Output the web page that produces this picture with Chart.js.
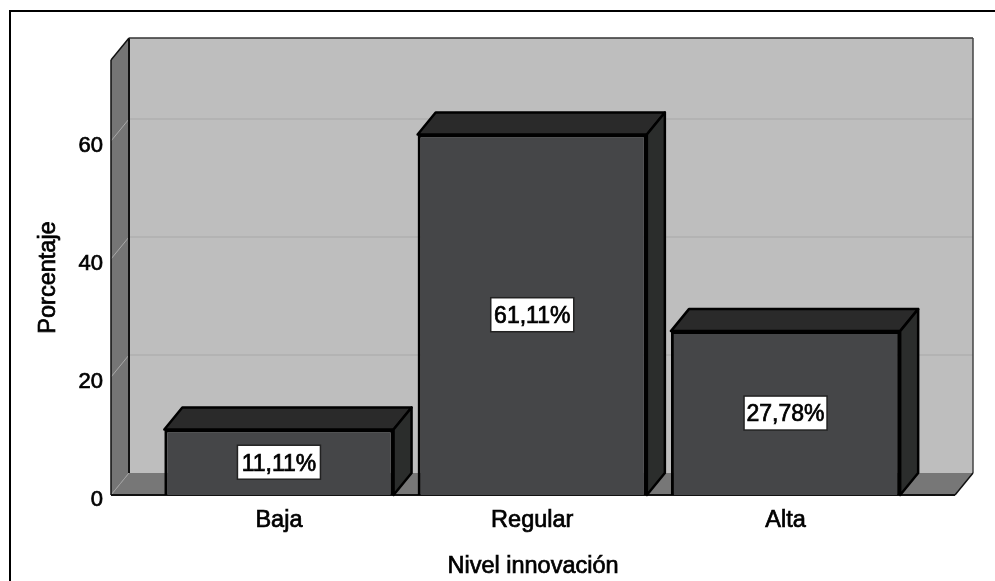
<!DOCTYPE html>
<html lang="es">
<head>
<meta charset="utf-8">
<title>Nivel innovación</title>
<script src="https://cdn.jsdelivr.net/npm/chart.js@4"></script>
<style>
  html, body { margin: 0; height: 100%; background: #fff; overflow: hidden; }
  #frame { position: absolute; left: 8.5px; top: 10px; right: 0; bottom: 0; border-left: 2.5px solid #000; border-top: 2.5px solid #000; }
  #chart { position: absolute; left: 0; top: 0; }
</style>
</head>
<body>
<div id="frame"></div>
<canvas id="chart" width="995" height="581"></canvas>
<script>
const categories = ['Baja', 'Regular', 'Alta'];
const percentages = [11.11, 61.11, 27.78];
const percentLabels = ['11,11%', '61,11%', '27,78%'];
const yTicks = [0, 20, 40, 60];

// how far the box recedes towards the back wall
const DEPTH_X = 18;
const DEPTH_Y = 22;
const FONT = '"Liberation Sans", Arial, sans-serif';

const polygon = (ctx, points, fill, stroke, lineWidth) => {
  ctx.beginPath();
  points.forEach(([x, y], i) => (i ? ctx.lineTo(x, y) : ctx.moveTo(x, y)));
  ctx.closePath();
  if (fill) {
    ctx.fillStyle = fill;
    ctx.fill();
  }
  if (stroke) {
    ctx.strokeStyle = stroke;
    ctx.lineWidth = lineWidth;
    ctx.stroke();
  }
};

const line = (ctx, x1, y1, x2, y2, stroke, lineWidth) => {
  ctx.beginPath();
  ctx.moveTo(x1, y1);
  ctx.lineTo(x2, y2);
  ctx.strokeStyle = stroke;
  ctx.lineWidth = lineWidth;
  ctx.stroke();
};

// back wall, left wall, floor and gridlines
const roomPlugin = {
  id: 'room',
  beforeDatasetsDraw(chart) {
    const { ctx, chartArea: { left, right, top, bottom }, scales: { y } } = chart;
    const dx = DEPTH_X;
    const dy = DEPTH_Y;
    ctx.save();
    ctx.lineJoin = 'round';
    polygon(ctx, [[left + dx, top - dy], [right + dx, top - dy], [right + dx, bottom - dy], [left + dx, bottom - dy]], '#bebebe');
    polygon(ctx, [[left, top], [left + dx, top - dy], [left + dx, bottom - dy], [left, bottom]], '#757575');
    polygon(ctx, [[left, bottom], [left + dx, bottom - dy], [right + dx, bottom - dy], [right, bottom]], '#777777');

    yTicks.filter((value) => value > 0).forEach((value) => {
      const py = y.getPixelForValue(value);
      line(ctx, left, py, left + dx, py - dy, '#a8a8a8', 1);
      line(ctx, left + dx, py - dy, right + dx, py - dy, '#a8a8a8', 1);
    });
    line(ctx, left, bottom, left + dx, bottom - dy, '#a0a0a0', 1);

    line(ctx, left + dx, top - dy, left + dx, bottom - dy, '#111', 2);
    line(ctx, left + dx, top - dy, right + dx, top - dy, '#333', 1.5);
    line(ctx, right + dx, top - dy, right + dx, bottom - dy, '#444', 1.5);
    line(ctx, left, top, left + dx, top - dy, '#111', 1.5);
    line(ctx, left, top, left, bottom, '#111', 1.5);
    line(ctx, right, bottom, right + dx, bottom - dy, '#111', 1.5);
    line(ctx, left, bottom, right, bottom, '#111', 2);

    // top and side faces of each bar, sitting behind the front face
    chart.getDatasetMeta(0).data.forEach((bar) => {
      const half = bar.width / 2;
      const l = bar.x - half;
      const r = bar.x + half;
      polygon(ctx, [[l, bar.y], [l + dx, bar.y - dy], [r + dx, bar.y - dy], [r, bar.y]], '#2a2a2a', '#000', 2.5);
      polygon(ctx, [[r, bar.y], [r + dx, bar.y - dy], [r + dx, bar.base - dy], [r, bar.base]], '#2b2d2c', '#000', 2.5);
    });
    ctx.restore();
  },
  afterDatasetsDraw(chart) {
    const { ctx } = chart;
    ctx.save();
    ctx.font = `23px ${FONT}`;
    ctx.textAlign = 'center';
    ctx.textBaseline = 'middle';
    chart.getDatasetMeta(0).data.forEach((bar, i) => {
      const cy = (bar.y + bar.base) / 2;
      ctx.fillStyle = '#fff';
      ctx.strokeStyle = '#222';
      ctx.lineWidth = 1.5;
      ctx.fillRect(bar.x - 41.5, cy - 17, 83, 34);
      ctx.strokeRect(bar.x - 41.5, cy - 17, 83, 34);
      ctx.fillStyle = '#000';
      ctx.fillText(percentLabels[i], bar.x, cy + 2);
    });
    ctx.restore();
  },
};

const canvas = document.getElementById('chart');

// the axis text is a little heavier than regular weight, so every label gets a thin outline
const canvasCtx = canvas.getContext('2d');
const plainFillText = canvasCtx.fillText;
canvasCtx.fillText = function (text, x, y) {
  plainFillText.call(this, text, x, y);
  this.strokeStyle = this.fillStyle;
  this.lineWidth = 0.7;
  this.strokeText(text, x, y);
};

new Chart(canvas, {
  type: 'bar',
  plugins: [roomPlugin],
  data: {
    datasets: [{
      data: percentages.map((value, i) => ({ x: i, y: value })),
      backgroundColor: '#454648',
      borderColor: '#000',
      borderWidth: 3,
      barPercentage: 0.905,
      categoryPercentage: 1,
    }],
  },
  options: {
    responsive: false,
    animation: false,
    layout: { padding: { top: 60, right: 40, left: 0, bottom: 0 } },
    plugins: { legend: { display: false }, tooltip: { enabled: false } },
    scales: {
      x: {
        type: 'linear',
        offset: false,
        min: -0.663,
        max: 2.669,
        afterBuildTicks: (scale) => {
          scale.ticks = categories.map((name, i) => ({ value: i }));
        },
        afterFit: (scale) => { scale.height = 86; },
        grid: { display: false, drawTicks: false },
        border: { display: false },
        ticks: {
          autoSkip: false,
          maxRotation: 0,
          padding: 11,
          color: '#000',
          font: { family: FONT, size: 23.5 },
          callback: (value) => categories[value],
        },
        title: {
          display: true,
          text: 'Nivel innovación',
          color: '#000',
          font: { family: FONT, size: 23.5 },
          padding: { top: 17, bottom: 0 },
        },
      },
      y: {
        min: 0,
        max: 73.73,
        afterBuildTicks: (scale) => {
          scale.ticks = yTicks.map((value) => ({ value }));
        },
        afterFit: (scale) => { scale.width = 111; },
        grid: { display: false, drawTicks: false },
        border: { display: false },
        ticks: {
          padding: 8,
          labelOffset: 5,
          color: '#000',
          font: { family: FONT, size: 22 },
        },
        title: {
          display: true,
          text: 'Porcentaje',
          color: '#000',
          font: { family: FONT, size: 23.5 },
          padding: { top: 34, bottom: 0 },
        },
      },
    },
  },
});
</script>
</body>
</html>
